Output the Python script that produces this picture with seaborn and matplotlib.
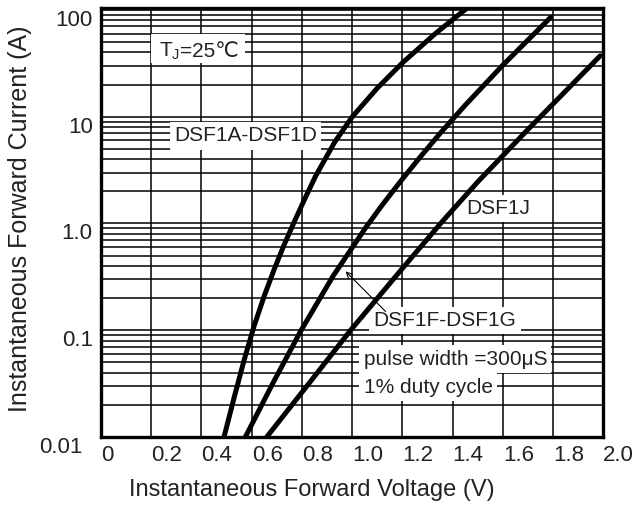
import numpy
import pandas
import seaborn
from matplotlib import pyplot
from matplotlib import ticker
from matplotlib import transforms
from matplotlib.patches import Rectangle

# Curves (volts, amps)
volts_a = [0.49, 0.53, 0.57, 0.61, 0.65, 0.69, 0.73, 0.77, 0.81, 0.855, 0.93, 1.0, 1.1, 1.2, 1.33, 1.453]
amps_a = [0.01, 0.0233, 0.0525, 0.11, 0.209, 0.373, 0.637, 1.04, 1.67, 2.79, 5.75, 9.95, 18.5, 31.9, 59.7, 102]

volts_fg = [0.575, 0.683, 0.795, 0.925, 1.055, 1.12, 1.194, 1.27, 1.35, 1.45, 1.6, 1.79]
amps_fg = [0.01, 0.0314, 0.098, 0.324, 0.92, 1.49, 2.5, 4.16, 6.97, 12.8, 30.4, 85]

volts_j = [0.66, 0.82, 0.994, 1.2, 1.357, 1.5, 1.693, 1.757, 1.87, 1.988]
amps_j = [0.01, 0.030, 0.1, 0.379, 1.03, 2.45, 7.3, 10.4, 19.4, 37.2]

curve_names = ['DSF1A-DSF1D', 'DSF1F-DSF1G', 'DSF1J']

x_ticks = [0, 0.2, 0.4, 0.6, 0.8, 1.0, 1.2, 1.4, 1.6, 1.8, 2.0]
x_tick_labels = ['0', '0.2', '0.4', '0.6', '0.8', '1.0', '1.2', '1.4', '1.6', '1.8', '2.0']
y_ticks = [0.01, 0.1, 1, 10, 100]
y_tick_labels = ['0.01', '0.1', '1.0', '10', '100']

data_frame = pandas.concat([
    pandas.DataFrame({'voltage': volts_a, 'current': amps_a, 'device': curve_names[0]}),
    pandas.DataFrame({'voltage': volts_fg, 'current': amps_fg, 'device': curve_names[1]}),
    pandas.DataFrame({'voltage': volts_j, 'current': amps_j, 'device': curve_names[2]}),
], ignore_index=True)

seaborn.set_style('white')
pyplot.rcParams['font.family'] = ['Liberation Sans', 'DejaVu Sans']
pyplot.rcParams['mathtext.fontset'] = 'custom'
pyplot.rcParams['mathtext.rm'] = 'Liberation Sans'

fig = pyplot.figure(figsize=(6.35, 5.09), dpi=100)
ax = fig.add_axes([0.159, 0.1415, 0.791, 0.8425])

seaborn.lineplot(data=data_frame, x='voltage', y='current', hue='device', units='device',
                 estimator=None, sort=False, palette=['black'] * 3, linewidth=3.6,
                 legend=False, ax=ax, zorder=5)

ax.set_yscale('log')
ax.set_xlim(0, 2.0)
ax.set_ylim(0.01, 104)

ax.set_xticks(x_ticks)
ax.set_xticklabels(x_tick_labels, ha='left')
ax.xaxis.set_minor_locator(ticker.NullLocator())
ax.yaxis.set_major_locator(ticker.FixedLocator(y_ticks))
ax.yaxis.set_major_formatter(ticker.FixedFormatter(y_tick_labels))
ax.yaxis.set_minor_locator(ticker.LogLocator(base=10, subs=numpy.arange(2, 10), numticks=20))
ax.yaxis.set_minor_formatter(ticker.NullFormatter())
ax.tick_params(which='both', length=0, labelsize=16, colors='#222222')
ax.tick_params(axis='x', pad=6)
ax.tick_params(axis='y', pad=6)
for label in ax.get_yticklabels():
    label.set_va('top')
# nudge "0.01" left so it clears the "0" of the x axis
first = ax.get_yticklabels()[0]
first.set_transform(first.get_transform() + transforms.ScaledTranslation(-10 / 100, 0, fig.dpi_scale_trans))

ax.grid(which='both', color='black', linewidth=1.1)
for spine in ax.spines.values():
    spine.set_linewidth(2.4)
    spine.set_color('black')
    spine.set_zorder(6)

ax.set_xlabel('Instantaneous Forward Voltage (V)', fontsize=17, va='center', color='#222222')
ax.xaxis.set_label_coords(0.42, -0.1235)
ax.set_ylabel('Instantaneous Forward Current (A)', fontsize=18, va='center', color='#222222')
ax.yaxis.set_label_coords(-0.161, 0.51)

box = dict(boxstyle='square,pad=0.2', facecolor='white', edgecolor='none')
text_style = dict(fontsize=15, color='#222222', zorder=4)

# white patch behind the junction temperature note, then the two text parts on top
ax.add_patch(Rectangle((0.2, 32), 0.375, 27.7, facecolor='white', edgecolor='none', zorder=4))
ax.text(0.315, 36.4, 'T$_\\mathregular{J}$', ha='right', va='baseline', fontsize=15, color='#222222', zorder=4.5)
ax.text(0.315, 36.4, '=25℃', ha='left', va='baseline', fontsize=15, color='#222222', zorder=4.5)

ax.text(0.575, 6.6, 'DSF1A-DSF1D', ha='center', va='center', bbox=box, **text_style)
ax.text(1.58, 1.38, 'DSF1J', ha='center', va='center', bbox=box, **text_style)
ax.text(1.37, 0.124, 'DSF1F-DSF1G', ha='center', va='center', bbox=box, **text_style)
ax.text(1.046, 0.0536, 'pulse width =300μS', ha='left', va='center', bbox=box, **text_style)
ax.text(1.046, 0.0293, '1% duty cycle', ha='left', va='center', bbox=box, **text_style)
ax.annotate('', xy=(0.974, 0.356), xytext=(1.133, 0.15),
            arrowprops=dict(arrowstyle='->', color='black', linewidth=0.8, shrinkA=0, shrinkB=0),
            zorder=6)

fig.savefig('out.png', dpi=100)
